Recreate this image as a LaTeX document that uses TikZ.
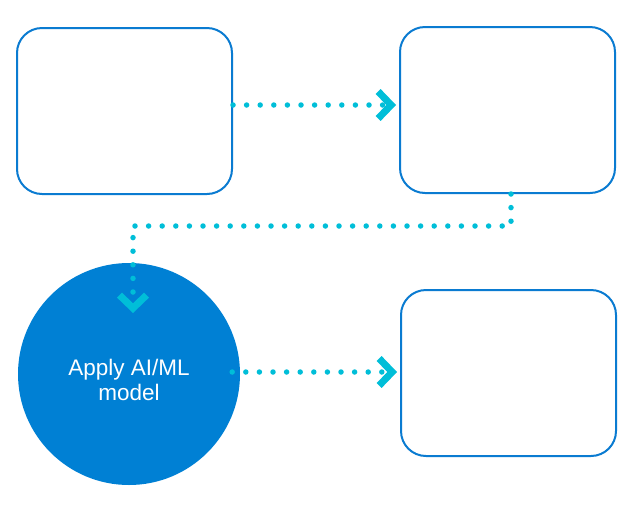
\documentclass[tikz,border=0pt]{standalone}
\usepackage{fontspec}
\setmainfont{Liberation Sans}
\usetikzlibrary{arrows.meta}
\definecolor{FlowBlue}{HTML}{0A7BD1}
\definecolor{FlowFill}{HTML}{0080D4}
\definecolor{FlowCyan}{HTML}{00BED8}

\begin{document}
\begin{tikzpicture}[x=1pt, y=-1pt,
    stepbox/.style={draw=FlowBlue, line width=2pt, rounded corners=25pt, fill=white,
        minimum width=215pt, minimum height=166pt, inner sep=0pt},
    modelcircle/.style={circle, fill=FlowFill, minimum size=222pt, inner sep=0pt},
    modeltext/.style={text=white, font=\fontsize{22.5}{25.5}\selectfont, align=center},
    flow/.style={FlowCyan, line width=5.5pt, line cap=round, dash pattern=on 0pt off 13.6pt,
        -{Straight Barb[length=13pt, width=27pt, line width=7pt, line cap=butt, line join=miter]}}]
    \useasboundingbox (0,0) rectangle (637,515);

    % Top row
    \node[stepbox] (boxA) at (124.5,111) {};
    \node[stepbox] (boxB) at (507.5,110) {};

    % Bottom row
    \node[modelcircle] (model) at (129,374) {};
    \node[modeltext] (modelText) at ([yshift=-6pt]model.center) {Apply AI/ML\\model};
    \node[stepbox] (boxD) at (508.5,373) {};

    % Connectors
    \coordinate (tipM) at (133,313);
    \draw[flow] ([yshift=6pt]boxA.east) -- ([xshift=-3pt,yshift=5pt]boxB.west);
    \draw[flow] ([xshift=3.5pt]boxB.south) -- ++(0,32) -| (tipM);
    \draw[flow] ([xshift=-8pt,yshift=2pt]model.east) -- ([xshift=-3pt,yshift=1pt]boxD.west);

\end{tikzpicture}
\end{document}
